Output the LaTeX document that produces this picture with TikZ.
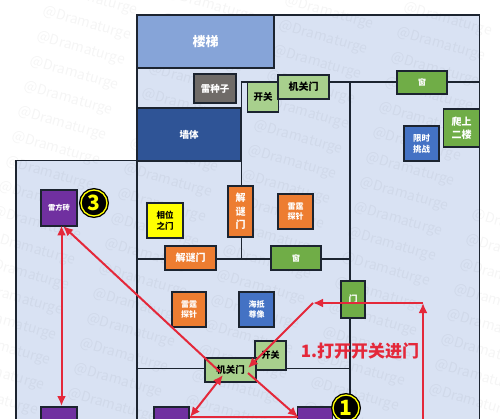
\documentclass[tikz,border=0pt]{standalone}
\usepackage{fontspec}
\setmainfont{Noto Sans CJK SC}
\usetikzlibrary{arrows.meta}
\definecolor{floorc}{HTML}{D9E2F3}
\definecolor{wall}{HTML}{1C2430}
\definecolor{stairc}{HTML}{86A4D8}
\definecolor{wallc}{HTML}{2F5496}
\definecolor{greyc}{HTML}{6F6B68}
\definecolor{lgreen}{HTML}{A8D08D}
\definecolor{dgreen}{HTML}{70AD47}
\definecolor{orangec}{HTML}{ED7D31}
\definecolor{bluec}{HTML}{4472C4}
\definecolor{purplec}{HTML}{7030A0}
\definecolor{yellowc}{HTML}{FFFF00}
\definecolor{redc}{HTML}{E4283A}
\tikzset{
  x=1pt,y=-1pt,
  box/.style={draw=wall,line width=1.1pt,inner sep=0pt,align=center,font=\bfseries\fontsize{8}{10}\selectfont,text=white},
  wl/.style={draw=wall,line width=1.1pt},
  route/.style={draw=redc,line width=2pt,{Latex[length=10pt,width=9pt]}-{Latex[length=10pt,width=9pt]}},
  routeb/.style={draw=redc,line width=2pt,-{Latex[length=10pt,width=9pt]}},
  routec/.style={draw=redc,line width=2pt,{Latex[length=10pt,width=9pt]}-},
  badge/.style={circle,preaction={draw=black,line width=4pt},draw=yellowc,line width=1.3pt,fill=black,minimum size=26pt,inner sep=0pt,font=\bfseries\fontsize{21}{21}\selectfont,text=yellowc},
  wm/.style={font=\fontsize{14}{14}\selectfont,text=black,rotate=-16,opacity=.04,inner sep=0pt}
}
\begin{document}
\begin{tikzpicture}
\useasboundingbox (0,0) rectangle (500,419);
\clip (0,0) rectangle (500,419);
\fill[white] (0,0) rectangle (500,419);
% floors
\fill[floorc] (137,15) rectangle (479,419);
\fill[floorc] (16,160) rectangle (137,419);
% watermark
\foreach \r in {-15,...,17}{\foreach \c in {0,...,5}{
  \pgfmathsetmacro\wx{87-6.2*\r+112*\c}
  \pgfmathsetmacro\wy{24+25*\r+32*\c}
  \pgfmathtruncatemacro\wok{and(and(\wx>-20,\wx<520),and(\wy>-5,\wy<425))}
  \ifnum\wok=1
  \node[wm] (w\r c\c) at (\wx,\wy) {@Dramaturge};
  \fi
}}
% walls
\draw[wl] (16,419) -- (16,160.5) -- (137,160.5);
\draw[wl] (137,419) -- (137,15) -- (479.5,15) -- (479.5,419);
\draw[wl] (137,108) -- (241,108);
\draw[wl] (241.5,82) -- (241.5,259);
\draw[wl] (241,82) -- (479,82);
\draw[wl] (350,82) -- (350,400);
\draw[wl] (137,259) -- (350,259);
\draw[wl] (137,368.5) -- (350,368.5);
% rooms
\node[box,fill=stairc,minimum width=137pt,minimum height=53pt,font=\bfseries\fontsize{13}{13}\selectfont] (stairs) at (205.5,41.5) {楼梯};
\node[box,fill=wallc,minimum width=104pt,minimum height=53pt,font=\bfseries\fontsize{9.5}{10}\selectfont] (wallb) at (189,134.5) {墙体};
\node[box,fill=greyc,minimum width=42pt,minimum height=29pt,font=\bfseries\fontsize{9.5}{10}\selectfont] (seed) at (215,88.5) {雷种子};
\node[box,fill=lgreen,text=black,minimum width=31pt,minimum height=30pt,font=\bfseries\fontsize{9.5}{10}\selectfont] (sw1) at (263,97) {开关};
\node[box,fill=lgreen,text=black,minimum width=51pt,minimum height=24pt,font=\bfseries\fontsize{10}{10}\selectfont] (door1) at (303.5,87) {机关门};
\node[box,fill=dgreen,minimum width=50pt,minimum height=23pt] (win1) at (422,82.5) {窗};
\node[box,fill=dgreen,minimum width=36pt,minimum height=38pt,font=\bfseries\fontsize{10}{12.5}\selectfont] (climb) at (461.5,128) {爬上\\二楼};
\node[box,fill=bluec,minimum width=35pt,minimum height=35pt,font=\bfseries\fontsize{8.5}{11}\selectfont] (chal) at (421.5,143.5) {限时\\挑战};
\node[box,fill=purplec,minimum width=36pt,minimum height=36pt,font=\bfseries\fontsize{7.3}{9}\selectfont] (brick) at (59,208) {雷方砖};
\node[box,fill=yellowc,text=black,minimum width=36pt,minimum height=35pt,font=\bfseries\fontsize{8.5}{11}\selectfont] (yellow) at (165,220.5) {相位\\之门};
\node[box,fill=orangec,minimum width=25pt,minimum height=51pt,font=\bfseries\fontsize{10}{13.5}\selectfont] (jm1) at (240.5,211.5) {解\\谜\\门};
\node[box,fill=orangec,minimum width=35pt,minimum height=35pt] (probe1) at (295.5,211.5) {雷霆\\探针};
\node[box,fill=orangec,minimum width=51pt,minimum height=24pt,font=\bfseries\fontsize{10}{10}\selectfont] (jm2) at (190.5,258) {解谜门};
\node[box,fill=dgreen,minimum width=50pt,minimum height=24pt] (win2) at (296,258) {窗};
\node[box,fill=orangec,minimum width=34pt,minimum height=35pt] (probe2) at (189,309.5) {雷霆\\探针};
\node[box,fill=bluec,minimum width=35pt,minimum height=35pt] (poster) at (256.5,309.5) {海抵\\尊像};
\node[box,fill=dgreen,minimum width=24pt,minimum height=37pt,font=\bfseries\fontsize{9}{10}\selectfont] (door2) at (353,299.5) {门};
\node[box,fill=lgreen,text=black,minimum width=31pt,minimum height=29pt,font=\bfseries\fontsize{9}{10}\selectfont] (sw2) at (270.5,355.5) {开关};
\node[box,fill=lgreen,text=black,minimum width=51pt,minimum height=24pt,font=\bfseries\fontsize{9.5}{10}\selectfont] (door3) at (230.5,370) {机关门};
\node[box,fill=purplec,minimum width=36pt,minimum height=40pt] (p1) at (59,427) {};
\node[box,fill=purplec,minimum width=35pt,minimum height=40pt] (p2) at (171.5,427) {};
\node[box,fill=purplec,minimum width=35pt,minimum height=40pt] (p3) at (315,427) {};
\node[badge] (b3) at (94,203) {3};
\node[badge] (b1) at (346,408) {1};
\node[badge] (b2) at (143,434) {};
% route
\coordinate (a1) at (61.5,225.5);
\coordinate (a2) at (61.5,406);
\coordinate (a3) at (63,226);
\coordinate (a4) at (220,372);
\coordinate (a5) at (190,417);
\coordinate (a6) at (223,375);
\coordinate (a7) at (298,417);
\coordinate (a8) at (423,419);
\coordinate (a9) at (423,303);
\coordinate (a10) at (313,303);
\coordinate (a11) at (248,368);
\coordinate (a12) at (248,373);
\draw[route] (a1) -- (a2);
\draw[routec] (a3) -- (a4);
\draw[route] (a5) -- (a6);
\draw[redc,line width=2pt] (a5) -- (a7);
\draw[routeb] (a8) -- (a9);
\draw[routeb] (a9) -- (a10);
\draw[routeb] (a10) -- (a11);
\draw[routeb] (a12) -- (a7);
% label
\node[font=\bfseries\fontsize{17}{17}\selectfont,text=redc,inner sep=0pt] (lab) at (360,351) {1.打开开关进门};
\end{tikzpicture}
\end{document}
